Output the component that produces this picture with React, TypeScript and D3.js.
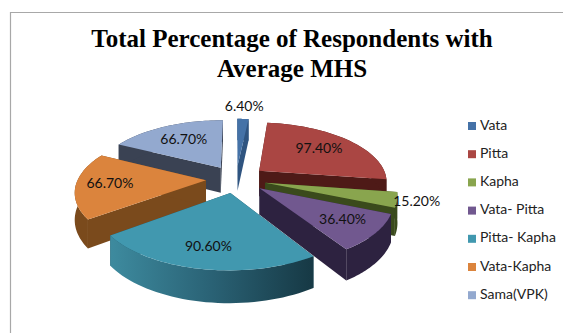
import React from "react";
import * as d3 from "d3";

const categories = ["Vata", "Pitta", "Kapha", "Vata- Pitta", "Pitta- Kapha", "Vata-Kapha", "Sama(VPK)"];
const values = [6.4, 97.4, 15.2, 36.4, 90.6, 66.7, 66.7];
const titleLines = ["Total Percentage of Respondents with", "Average MHS"];
const topColors = ["#4572a7", "#aa4643", "#89a54e", "#71588f", "#4198af", "#db843d", "#93a9cf"];
const wallColors = ["#2f5480", "#4e1a17", "#3a4a1c", "#2d2240", "#1f4f5e", "#7a4a1c", "#3a4253"];

// Painter's order for the exploded wedges, back to front.
const paintOrder = [0, 6, 1, 5, 2, 3, 4];
// Radial placement of each value label, as a fraction of the pie radius.
const labelRadius = [1.3, 0.66, 1.14, 0.74, 0.76, 0.74, 0.64];

const CX = 236;
const CY = 179;
const R = 128;
const EXPLODE = 30;
const TILT = 0.46;
const DEPTH = 26;
const PERSPECTIVE = 760;

type P = [number, number];

// Perspective projection of a ground point; drop pushes it down to the pie's underside.
function project(gx: number, gy: number, drop = 0): P {
  const s = PERSPECTIVE / (PERSPECTIVE - gy);
  return [CX + gx * s, CY + (gy * TILT + drop) * s];
}

const pieArcs = d3.pie<number>().sort(null)(values);

function pt(a: number, r: number, mid: number, drop = 0): P {
  const gx = Math.sin(a) * r + Math.sin(mid) * EXPLODE;
  const gy = -Math.cos(a) * r - Math.cos(mid) * EXPLODE;
  return project(gx, gy, drop);
}

const line = d3.line<P>();

function App() {
  return (
    <svg width={563} height={333} style={{ position: "absolute", left: 0, top: 0, background: "#fff" }}>
      <defs>
        <linearGradient id="tealWall" gradientUnits="userSpaceOnUse" x1={112} x2={310} y1={0} y2={0}>
          <stop offset="0" stopColor="#3d8a9e" />
          <stop offset="0.5" stopColor="#2a6275" />
          <stop offset="1" stopColor="#173a46" />
        </linearGradient>
      </defs>
      <path d="M563.5,12.5H10.5V333" fill="none" stroke="#a8a8a8" strokeWidth={1.2} />
      {titleLines.map((t, i) => (
        <text key={t} x={292} y={47 + i * 30} textAnchor="middle" fontFamily="Liberation Serif" fontWeight="bold" fontSize={25} fill="#000">
          {t}
        </text>
      ))}
      {paintOrder.map((i) => {
        const d = pieArcs[i];
        const mid = (d.startAngle + d.endAngle) / 2;
        const steps = d3.range(0, 41).map((k) => d.startAngle + ((d.endAngle - d.startAngle) * k) / 40);
        const apex = pt(0, 0, mid);
        const apexLow = pt(0, 0, mid, DEPTH);
        const rim = steps.map((a) => pt(a, R, mid));
        const rimLow = steps.map((a) => pt(a, R, mid, DEPTH));
        const wallFill = i === 4 ? "url(#tealWall)" : wallColors[i];
        const cutA: P[] = [apex, rim[0], rimLow[0], apexLow];
        const cutB: P[] = [apex, rim[40], rimLow[40], apexLow];
        const outer: P[] = [...rim, ...[...rimLow].reverse()];
        return (
          <g key={categories[i]}>
            <path d={line(cutA) + "Z"} fill={wallColors[i]} />
            <path d={line(cutB) + "Z"} fill={wallColors[i]} />
            <path d={line(outer) + "Z"} fill={wallFill} />
            <path d={line([apex, ...rim]) + "Z"} fill={topColors[i]} />
          </g>
        );
      })}
      {pieArcs.map((d, i) => {
        const mid = (d.startAngle + d.endAngle) / 2;
        const [x, y] = pt(mid, R * labelRadius[i], mid);
        return (
          <text key={categories[i]} x={x} y={y} textAnchor="middle" dominantBaseline="middle" fontFamily="Lato" fontSize={14} fill="#111">
            {d.value.toFixed(2)}%
          </text>
        );
      })}
      {categories.map((c, i) => (
        <g key={c}>
          <rect x={468} y={122 + i * 28.2} width={8} height={8} fill={topColors[i]} />
          <text x={480} y={126 + i * 28.2} dominantBaseline="middle" fontFamily="Lato" fontSize={14} fill="#222">
            {c}
          </text>
        </g>
      ))}
    </svg>
  );
}

export default App;
